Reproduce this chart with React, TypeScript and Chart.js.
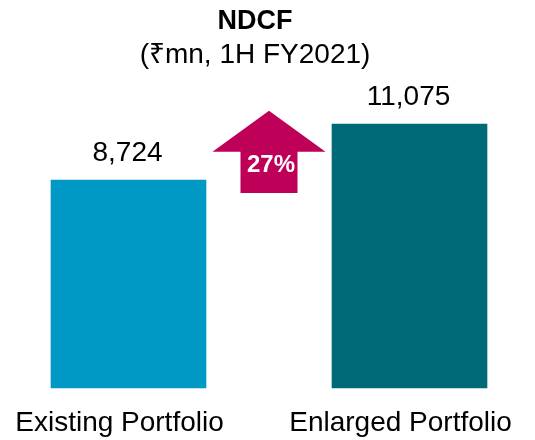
import React, { useEffect, useRef } from "react";
import { Chart, registerables } from "chart.js";

Chart.register(...registerables);

const TITLE = "NDCF";
const SUBTITLE = "(₹mn, 1H FY2021)";
const CATEGORIES = ["Existing Portfolio", "Enlarged Portfolio"];
const NDCF_VALUES = [8724, 11075];
const BAR_COLORS = ["#0099C6", "#006978"];
const ARROW_COLOR = "#BE0059";
// arrow geometry in value units (tip, shoulders, base)
const ARROW_LEVELS = [11629, 9908, 8186];

const FONT = "'Liberation Sans', Arial, sans-serif";

const overlayPlugin = {
  id: "overlay",
  afterDatasetsDraw(chart: any) {
    const ctx = chart.ctx;
    const meta = chart.getDatasetMeta(0);
    const yScale = chart.scales.y;
    ctx.save();
    // value labels
    ctx.fillStyle = "#000000";
    ctx.font = `28px ${FONT}`;
    ctx.textAlign = "center";
    ctx.textBaseline = "alphabetic";
    meta.data.forEach((bar: any, i: number) => {
      ctx.fillText(NDCF_VALUES[i].toLocaleString("en-US"), bar.x - 1, bar.y - 19);
    });
    // arrow
    const cx = (meta.data[0].x + meta.data[1].x) / 2;
    const tip = yScale.getPixelForValue(ARROW_LEVELS[0]);
    const sh = yScale.getPixelForValue(ARROW_LEVELS[1]);
    const base = yScale.getPixelForValue(ARROW_LEVELS[2]);
    const outer = 56.5;
    const stem = 28.5;
    ctx.fillStyle = ARROW_COLOR;
    ctx.beginPath();
    ctx.moveTo(cx, tip);
    ctx.lineTo(cx + outer, sh);
    ctx.lineTo(cx + stem, sh);
    ctx.lineTo(cx + stem, base);
    ctx.lineTo(cx - stem, base);
    ctx.lineTo(cx - stem, sh);
    ctx.lineTo(cx - outer, sh);
    ctx.closePath();
    ctx.fill();
    const pct = Math.round((NDCF_VALUES[1] / NDCF_VALUES[0] - 1) * 100) + "%";
    ctx.fillStyle = "#FFFFFF";
    ctx.font = `bold 24px ${FONT}`;
    ctx.fillText(pct, cx + 2, base - 21);
    // titles
    ctx.fillStyle = "#000000";
    ctx.font = `bold 27px ${FONT}`;
    ctx.fillText(TITLE, 255, 29);
    ctx.font = `28px ${FONT}`;
    ctx.fillText(SUBTITLE, 255, 62.5);
    ctx.restore();
  },
};

export default function App() {
  const ref = useRef<HTMLCanvasElement>(null);
  useEffect(() => {
    if (!ref.current) return;
    const chart = new Chart(ref.current, {
      type: "bar",
      data: {
        labels: CATEGORIES,
        datasets: [
          {
            data: NDCF_VALUES,
            backgroundColor: BAR_COLORS,
            barThickness: 155,
            clip: false as any,
          },
        ],
      },
      options: {
        animation: false,
        responsive: false,
        layout: { padding: { top: 102, left: 128.5, right: 125.5, bottom: 0 } },
        plugins: {
          legend: { display: false },
          title: { display: false },
          tooltip: { enabled: false },
        },
        scales: {
          x: {
            offset: false,
            grid: { display: false, drawTicks: false },
            border: { display: false },
            ticks: {
              color: "#000000",
              font: { family: FONT, size: 28 },
              padding: 18,
              labelOffset: -9,
              maxRotation: 0,
              autoSkip: false,
            },
            afterFit(scale: any) {
              scale.height = 52;
              scale.paddingLeft = 0;
              scale.paddingRight = 0;
            },
          },
          y: {
            display: false,
            min: 0,
            max: 12000,
          },
        },
      },
      plugins: [overlayPlugin],
    });
    return () => chart.destroy();
  }, []);
  return (
    <div style={{ position: "fixed", left: 0, top: 0, width: 535, height: 440, background: "#FFFFFF" }}>
      <canvas ref={ref} width={535} height={440} style={{ display: "block" }} />
    </div>
  );
}
